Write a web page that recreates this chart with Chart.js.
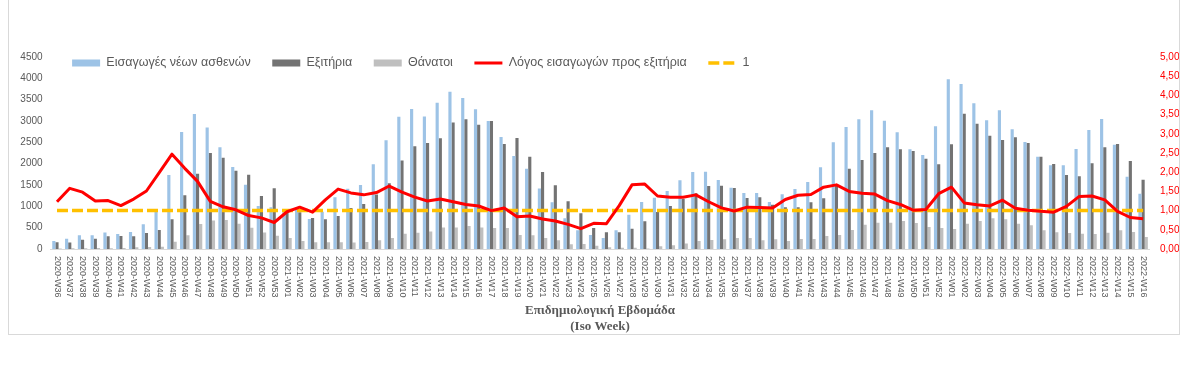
<!DOCTYPE html>
<html>
<head>
<meta charset="utf-8">
<script src="https://cdn.jsdelivr.net/npm/chart.js@4.4.1/dist/chart.umd.min.js"></script>
<style>
  html, body { margin: 0; padding: 0; background: #ffffff; }
  #wrap { position: relative; width: 1203px; height: 367px; overflow: hidden; }
  #frame { position: absolute; left: 8px; top: -2px; width: 1172px; height: 337px; box-sizing: border-box; border: 1px solid #D9D9D9; pointer-events: none; }
  canvas { position: absolute; left: 0; top: 0; }
</style>
</head>
<body>
<div id="wrap">
  <canvas id="c" width="1203" height="367"></canvas>
  <div id="frame"></div>
</div>
<script>
// ---------------- DATA ----------------
const weeks = [
  "2020-W36","2020-W37","2020-W38","2020-W39","2020-W40","2020-W41","2020-W42","2020-W43","2020-W44","2020-W45",
  "2020-W46","2020-W47","2020-W48","2020-W49","2020-W50","2020-W51","2020-W52","2020-W53",
  "2021-W01","2021-W02","2021-W03","2021-W04","2021-W05","2021-W06","2021-W07","2021-W08","2021-W09","2021-W10",
  "2021-W11","2021-W12","2021-W13","2021-W14","2021-W15","2021-W16","2021-W17","2021-W18","2021-W19","2021-W20",
  "2021-W21","2021-W22","2021-W23","2021-W24","2021-W25","2021-W26","2021-W27","2021-W28","2021-W29","2021-W30",
  "2021-W31","2021-W32","2021-W33","2021-W34","2021-W35","2021-W36","2021-W37","2021-W38","2021-W39","2021-W40",
  "2021-W41","2021-W42","2021-W43","2021-W44","2021-W45","2021-W46","2021-W47","2021-W48","2021-W49","2021-W50",
  "2021-W51","2021-W52",
  "2022-W01","2022-W02","2022-W03","2022-W04","2022-W05","2022-W06","2022-W07","2022-W08","2022-W09","2022-W10",
  "2022-W11","2022-W12","2022-W13","2022-W14","2022-W15","2022-W16"
];

const admissions = [
  190, 240, 320, 320, 385, 350, 400, 580, 930, 1735, 2745, 3165, 2850, 2385, 1922, 1505, 1008, 977,
  860, 935, 703, 875, 1215, 1414, 1500, 1985, 2550, 3100,
  3282, 3105, 3430, 3685, 3540, 3274, 3000, 2625, 2180, 1880,
  1418, 1098, 719, 438, 328, 258, 437, 805, 1102, 1203,
  1360, 1610, 1805, 1813, 1617, 1438, 1313, 1313, 1102, 1286,
  1406, 1570, 1918, 2500, 2860, 3039, 3250, 3008, 2735, 2336,
  2203, 2875,
  3977, 3868, 3414, 3016, 3250, 2805, 2508, 2164, 1961, 1961, 2344, 2789, 3047, 2445, 1695, 1297
];

const discharges = [
  157, 150, 219, 242, 297, 305, 297, 375, 445, 695, 1258, 1766, 2250, 2140, 1832, 1738, 1242, 1422,
  880, 860, 727, 696, 774, 961, 1055, 1275, 1540, 2075,
  2407, 2485, 2594, 2965, 3039, 2910, 3000, 2461, 2602, 2164,
  1805, 1496, 1120, 840, 492, 391, 391, 477, 649, 867,
  1008, 1172, 1305, 1477, 1485, 1430, 1195, 1211, 1039, 980,
  980, 1098, 1188, 1485, 1880, 2086, 2250, 2383, 2336, 2297,
  2117, 1985,
  2454, 3172, 2938, 2657, 2555, 2617, 2485, 2164, 1992, 1734, 1703, 2008, 2383, 2461, 2063, 1625
];

const deaths = [
  10, 15, 20, 25, 20, 25, 40, 45, 50, 168, 325, 586, 668, 680, 594, 500, 388, 310,
  255, 185, 157, 157, 160, 150, 164, 205, 255, 360,
  380, 410, 505, 505, 539, 505, 492, 492, 328, 320,
  258, 205, 113, 117, 75, 42, 30, 30, 10, 65,
  90, 130, 190, 211, 230, 258, 258, 207, 230, 188,
  234, 234, 305, 328, 445, 570, 617, 617, 656, 610,
  516, 492,
  469, 594, 656, 719, 696, 594, 555, 438, 391, 375, 359, 352, 383, 438, 398, 281
];

const ratio = [
  1.23, 1.58, 1.48, 1.25, 1.26, 1.13, 1.30, 1.51, 1.99, 2.47, 2.10, 1.76, 1.24, 1.10, 1.02, 0.87, 0.81, 0.69,
  0.97, 1.09, 0.96, 1.28, 1.56, 1.46, 1.41, 1.47, 1.64, 1.48,
  1.35, 1.25, 1.30, 1.23, 1.16, 1.12, 1.00, 1.07, 0.84, 0.86,
  0.78, 0.73, 0.64, 0.53, 0.67, 0.66, 1.13, 1.67, 1.69, 1.38,
  1.35, 1.35, 1.41, 1.23, 1.07, 0.99, 1.09, 1.08, 1.07, 1.29,
  1.40, 1.42, 1.61, 1.67, 1.50, 1.45, 1.43, 1.26, 1.16, 1.01,
  1.03, 1.44,
  1.61, 1.20, 1.15, 1.12, 1.27, 1.06, 1.01, 0.98, 0.96, 1.11, 1.37, 1.38, 1.28, 0.98, 0.82, 0.79
];

const unityLine = [
  1,1,1,1,1,1,1,1,1,1,1,1,1,1,1,1,1,1,
  1,1,1,1,1,1,1,1,1,1,1,1,1,1,1,1,1,1,1,1,1,1,1,1,1,1,1,1,1,1,
  1,1,1,1,1,1,1,1,1,1,1,1,1,1,1,1,1,1,1,1,1,1,
  1,1,1,1,1,1,1,1,1,1,1,1,1,1,1,1
];

const leftTicks = [0, 500, 1000, 1500, 2000, 2500, 3000, 3500, 4000, 4500];
const rightTicks = [0, 0.5, 1, 1.5, 2, 2.5, 3, 3.5, 4, 4.5, 5];

const seriesNames = ["Εισαγωγές νέων ασθενών", "Εξιτήρια", "Θάνατοι", "Λόγος εισαγωγών προς εξιτήρια", "1"];
const xTitle = ["Επιδημιολογική Εβδομάδα", "(Iso Week)"];

// ---------------- PLUGINS ----------------
const LEGEND_PAD = 21.5, LEGEND_FONT = 12.5;
const PAD_TOP = 35.25, AREA_TOP = 57;
const legendOverlap = {
  id: 'legendOverlap',
  beforeLayout(chart) {
    const lg = chart.legend;
    if (lg && !lg._wrappedFit) {
      const f = lg.fit;
      lg.fit = function () { f.call(this); this.height = AREA_TOP - PAD_TOP; };
      lg._wrappedFit = true;
    }
  },
  afterLayout(chart) {
    const lg = chart.legend;
    if (lg) { lg.height = 45; lg.bottom = lg.top + 45; }
  }
};

const rotatedXLabels = {
  id: 'rotatedXLabels',
  afterDraw(chart) {
    const xs = chart.scales.x;
    const ctx = chart.ctx;
    ctx.save();
    ctx.font = '9px "Liberation Sans Narrow", "Liberation Sans", sans-serif';
    ctx.fillStyle = '#595959';
    ctx.textAlign = 'left';
    ctx.textBaseline = 'middle';
    weeks.forEach((lab, i) => {
      const x = xs.getPixelForValue(i);
      ctx.save();
      ctx.translate(x, xs.top + 7);
      ctx.rotate(Math.PI / 2);
      ctx.fillText(lab, 0, 0);
      ctx.restore();
    });
    ctx.restore();
  }
};

// ---------------- CHART ----------------
new Chart(document.getElementById('c'), {
  type: 'bar',
  data: {
    labels: weeks,
    datasets: [
      { label: seriesNames[0], data: admissions, backgroundColor: '#9DC3E6', yAxisID: 'y', order: 2,
        categoryPercentage: 0.74, barPercentage: 1.0 },
      { label: seriesNames[1], data: discharges, backgroundColor: '#737373', yAxisID: 'y', order: 2,
        categoryPercentage: 0.74, barPercentage: 1.0 },
      { label: seriesNames[2], data: deaths, backgroundColor: '#BFBFBF', yAxisID: 'y', order: 2,
        categoryPercentage: 0.74, barPercentage: 1.0 },
      { type: 'line', label: seriesNames[3], data: ratio, borderColor: '#FF0000', backgroundColor: '#FF0000',
        borderWidth: 3, pointRadius: 0, tension: 0, yAxisID: 'y1', order: 0, borderJoinStyle: 'round' },
      { type: 'line', label: seriesNames[4], data: unityLine, borderColor: '#FFC000', backgroundColor: '#FFC000',
        borderWidth: 3.5, borderDash: [11, 4], pointRadius: 0, tension: 0, yAxisID: 'y1', order: 1 }
    ]
  },
  options: {
    responsive: false,
    animation: false,
    devicePixelRatio: 1,
    layout: { padding: { left: 0, right: 0, top: PAD_TOP, bottom: 31.5 } },
    plugins: {
      tooltip: { enabled: false },
      legend: {
        display: true,
        position: 'top',
        align: 'start',
        fullSize: false,
        labels: {
          usePointStyle: true,
          pointStyleWidth: 28,
          boxHeight: 7,
          padding: LEGEND_PAD,
          color: '#595959',
          font: { family: '"Liberation Sans", sans-serif', size: LEGEND_FONT },
          generateLabels(chart) {
            const items = Chart.defaults.plugins.legend.labels.generateLabels(chart);
            items.forEach(it => {
              const ds = chart.data.datasets[it.datasetIndex];
              if (ds.type === 'line') {
                it.pointStyle = 'line';
                it.lineWidth = ds.borderWidth;
                it.lineDash = ds.borderDash || [];
                it.strokeStyle = ds.borderColor;
                it.fillStyle = ds.borderColor;
              } else {
                it.pointStyle = 'rect';
                it.lineWidth = 0;
                it.fillStyle = ds.backgroundColor;
                it.strokeStyle = ds.backgroundColor;
              }
            });
            return items.sort((a, b) => a.datasetIndex - b.datasetIndex);
          }
        }
      }
    },
    scales: {
      x: {
        offset: true,
        grid: { display: false, drawTicks: false },
        border: { display: true, color: '#D9D9D9', width: 1 },
        ticks: { display: false, autoSkip: false },
        title: {
          display: true,
          text: xTitle,
          color: '#595959',
          font: { family: '"Liberation Serif", "Times New Roman", serif', size: 13, weight: 'bold', lineHeight: 1.3 },
          padding: { top: 0, bottom: 0 }
        },
        afterFit(scale) { scale.height = 86.5; }
      },
      y: {
        position: 'left',
        min: 0, max: 4500,
        grid: { display: false, drawTicks: false },
        border: { display: false },
        afterBuildTicks(scale) { scale.ticks = leftTicks.map(v => ({ value: v })); },
        ticks: {
          padding: 8,
          color: '#595959',
          font: { family: '"Liberation Sans", sans-serif', size: 10 },
          callback: (v) => String(v)
        },
        afterFit(scale) { scale.width = 50.6; }
      },
      y1: {
        position: 'right',
        min: 0, max: 5,
        grid: { display: false, drawTicks: false },
        border: { display: false },
        afterBuildTicks(scale) { scale.ticks = rightTicks.map(v => ({ value: v })); },
        ticks: {
          padding: 10.5,
          color: '#FF0000',
          font: { family: '"Liberation Sans", sans-serif', size: 10 },
          callback: (v) => Number(v).toFixed(2).replace('.', ',')
        },
        afterFit(scale) { scale.width = 53.5; }
      }
    }
  },
  plugins: [legendOverlap, rotatedXLabels]
});
</script>
</body>
</html>
